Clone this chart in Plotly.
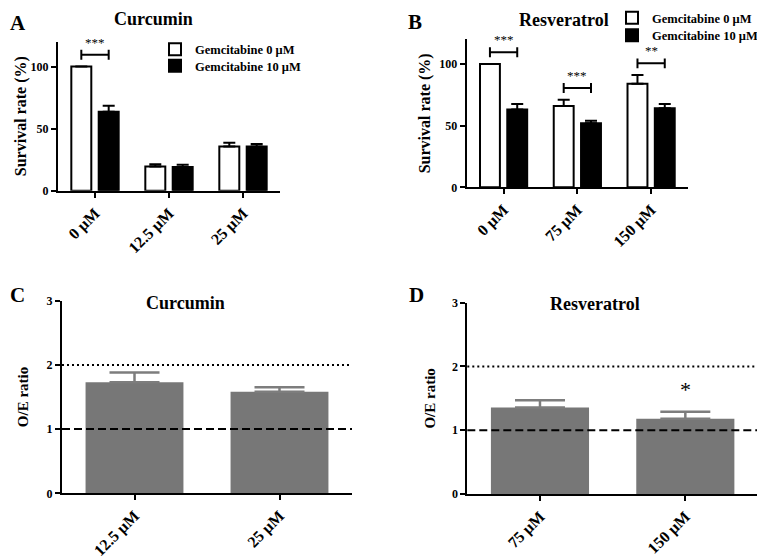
import plotly.graph_objects as go

# ---- data ----
curc_doses = ["0 μM", "12.5 μM", "25 μM"]
curc_gem0 = [100, 19.5, 35.5]
curc_gem0_err = [0, 1.8, 3.2]
curc_gem10 = [63.5, 19, 35.5]
curc_gem10_err = [5, 1.8, 2.2]
curc_sig = ["***", "", ""]

resv_doses = ["0 μM", "75 μM", "150 μM"]
resv_gem0 = [100, 66, 84]
resv_gem0_err = [0, 5, 7]
resv_gem10 = [63, 52, 64]
resv_gem10_err = [4.5, 2, 3.5]
resv_sig = ["***", "***", "**"]

oe_curc_doses = ["12.5 μM", "25 μM"]
oe_curc = [1.73, 1.58]
oe_curc_err = [0.15, 0.07]

oe_resv_doses = ["75 μM", "150 μM"]
oe_resv = [1.355, 1.18]
oe_resv_err = [0.115, 0.11]
oe_resv_sig = ["", "*"]

oe_ref_lines = [1, 2]
legend_names = ["Gemcitabine 0 μM", "Gemcitabine 10 μM"]

FONT = "Liberation Serif, Times New Roman, serif"
# the page body adds an 8px margin, so the figure is a bit smaller than the window
PAD = 8
W, H = 765 - PAD, 560 - PAD
BAR_W = 0.27
OFF0, OFF1 = -0.32, 0.05
GRAY = "#777777"


def fx(px):
    return (px - PAD) / W


def fy(py):
    return 1 - (py - PAD) / H


fig = go.Figure()


def add_pair(xa, ya, doses, v0, e0, v1, e1, legends):
    fig.add_trace(go.Bar(
        x=doses, y=v0, name=legend_names[0], xaxis=xa, yaxis=ya,
        width=BAR_W, offset=OFF0, legend=legends[0],
        marker=dict(color="white", line=dict(color="black", width=2)),
        error_y=dict(type="data", array=e0, arrayminus=[0] * len(e0),
                     symmetric=False, color="black", thickness=2, width=6),
    ))
    fig.add_trace(go.Bar(
        x=doses, y=v1, name=legend_names[1], xaxis=xa, yaxis=ya,
        width=BAR_W, offset=OFF1, legend=legends[1],
        marker=dict(color="black", line=dict(color="black", width=2)),
        error_y=dict(type="data", array=e1, arrayminus=[0] * len(e1),
                     symmetric=False, color="black", thickness=2, width=6),
    ))


def add_brackets(xa, ya, v0, e0, v1, e1, sig):
    c0 = OFF0 + BAR_W / 2
    c1 = OFF1 + BAR_W / 2
    for i, s in enumerate(sig):
        if not s:
            continue
        top = max(v0[i] + e0[i], v1[i] + e1[i]) + 9.5
        fig.add_shape(type="line", xref=xa, yref=ya, x0=i + c0, x1=i + c1,
                      y0=top, y1=top, line=dict(color="black", width=2))
        for xc in (i + c0, i + c1):
            fig.add_shape(type="line", xref=xa, yref=ya, x0=xc, x1=xc,
                          y0=top + 4, y1=top - 4, line=dict(color="black", width=2))
        fig.add_annotation(x=i + (c0 + c1) / 2, y=top, xref=xa, yref=ya,
                           text=s, showarrow=False, yanchor="bottom", yshift=3,
                           font=dict(family=FONT, size=13, color="black"))


add_pair("x", "y", curc_doses, curc_gem0, curc_gem0_err, curc_gem10, curc_gem10_err,
         ["legend", "legend2"])
add_brackets("x", "y", curc_gem0, curc_gem0_err, curc_gem10, curc_gem10_err, curc_sig)
add_pair("x2", "y2", resv_doses, resv_gem0, resv_gem0_err, resv_gem10, resv_gem10_err,
         ["legend3", "legend4"])
add_brackets("x2", "y2", resv_gem0, resv_gem0_err, resv_gem10, resv_gem10_err, resv_sig)

for xa, ya, doses, vals, errs in [("x3", "y3", oe_curc_doses, oe_curc, oe_curc_err),
                                  ("x4", "y4", oe_resv_doses, oe_resv, oe_resv_err)]:
    fig.add_trace(go.Bar(
        x=doses, y=vals, xaxis=xa, yaxis=ya, showlegend=False,
        marker=dict(color=GRAY, line=dict(width=0)),
        error_y=dict(type="data", array=errs, arrayminus=[0] * len(errs),
                     symmetric=False, color="#7d7d7d", thickness=2.5, width=25),
    ))
    for ref in oe_ref_lines:
        fig.add_shape(type="line", xref=xa + " domain", yref=ya, x0=0, x1=1,
                      y0=ref, y1=ref, layer="above",
                      line=dict(color="black", width=2,
                                dash="8px,4px" if ref == 1 else "2px,3px"))

for i, s in enumerate(oe_resv_sig):
    if s:
        fig.add_annotation(x=i, y=oe_resv[i] + oe_resv_err[i] + 0.12, xref="x4", yref="y4",
                           text=s, showarrow=False, yanchor="bottom",
                           font=dict(family=FONT, size=22, color="black"))


def xaxis(dom, anchor):
    return dict(domain=dom, anchor=anchor, showline=True, linecolor="black", linewidth=2,
                ticks="outside", ticklen=5, tickwidth=2, tickcolor="black",
                tickangle=-45, showgrid=False, zeroline=False, automargin=False,
                tickfont=dict(family=FONT, size=16, color="black", weight="bold"))


def yaxis(dom, anchor, rng, dtick, title, size, standoff):
    return dict(domain=dom, anchor=anchor, range=rng, dtick=dtick, showline=True,
                linecolor="black", linewidth=2, ticks="outside", ticklen=5, tickwidth=2,
                tickcolor="black", showgrid=False, zeroline=False, automargin=False,
                tickfont=dict(family=FONT, size=12, color="black", weight="bold"),
                title=dict(text=title, standoff=standoff,
                           font=dict(family=FONT, size=size, color="black", weight="bold")))


def legend_at(px, py):
    # one legend row per box, py = row centre
    return dict(x=fx(px), y=fy(py - 13), xanchor="left", yanchor="top",
                bgcolor="rgba(0,0,0,0)", tracegroupgap=0, itemwidth=30,
                font=dict(family=FONT, size=12.5, color="black", weight="bold"))


labels = [("A", 8, 9, "left", "top"), ("B", 415, 8, "center", "top"),
          ("C", 8, 295, "left", "middle"), ("D", 416.5, 295, "center", "middle")]
titles = [("Curcumin", 153, 18.5, "middle"), ("Resveratrol", 564, 8, "top"),
          ("Curcumin", 185, 302.5, "middle"), ("Resveratrol", 595, 303.5, "middle")]
for t, px, py, xan, yan in labels:
    fig.add_annotation(text=t, x=fx(px), y=fy(py), xref="paper", yref="paper",
                       xanchor=xan, yanchor=yan, showarrow=False,
                       font=dict(family=FONT, size=21, color="black", weight="bold"))
for t, px, py, yan in titles:
    fig.add_annotation(text=t, x=fx(px), y=fy(py), xref="paper", yref="paper",
                       xanchor="center", yanchor=yan, showarrow=False,
                       font=dict(family=FONT, size=18, color="black", weight="bold"))

fig.update_layout(
    width=W, height=H,
    margin=dict(l=0, r=0, t=0, b=0, autoexpand=False),
    paper_bgcolor="white", plot_bgcolor="white",
    barmode="overlay",
    bargap=0.325,
    xaxis=xaxis([fx(58), fx(280)], "y"),
    yaxis=yaxis([fy(190.7), fy(41.7)], "x", [0, 120], 50, "Survival rate (%)", 16, 0),
    xaxis2=xaxis([fx(466.7), fx(688)], "y2"),
    yaxis2=yaxis([fy(187.3), fy(39.3)], "x2", [0, 120], 50, "Survival rate (%)", 16, 5),
    xaxis3=xaxis([fx(62), fx(352)], "y3"),
    yaxis3=yaxis([fy(493.3), fy(300.7)], "x3", [0, 3], 1, "O/E ratio", 15, 14),
    xaxis4=xaxis([fx(467.3), fx(758)], "y4"),
    yaxis4=yaxis([fy(494), fy(302.7)], "x4", [0, 3], 1, "O/E ratio", 15, 13),
    legend=legend_at(155, 47.5),
    legend2=legend_at(155, 64),
    legend3=legend_at(612, 16),
    legend4=legend_at(612, 33.5),
)

fig.write_html("out.html")
